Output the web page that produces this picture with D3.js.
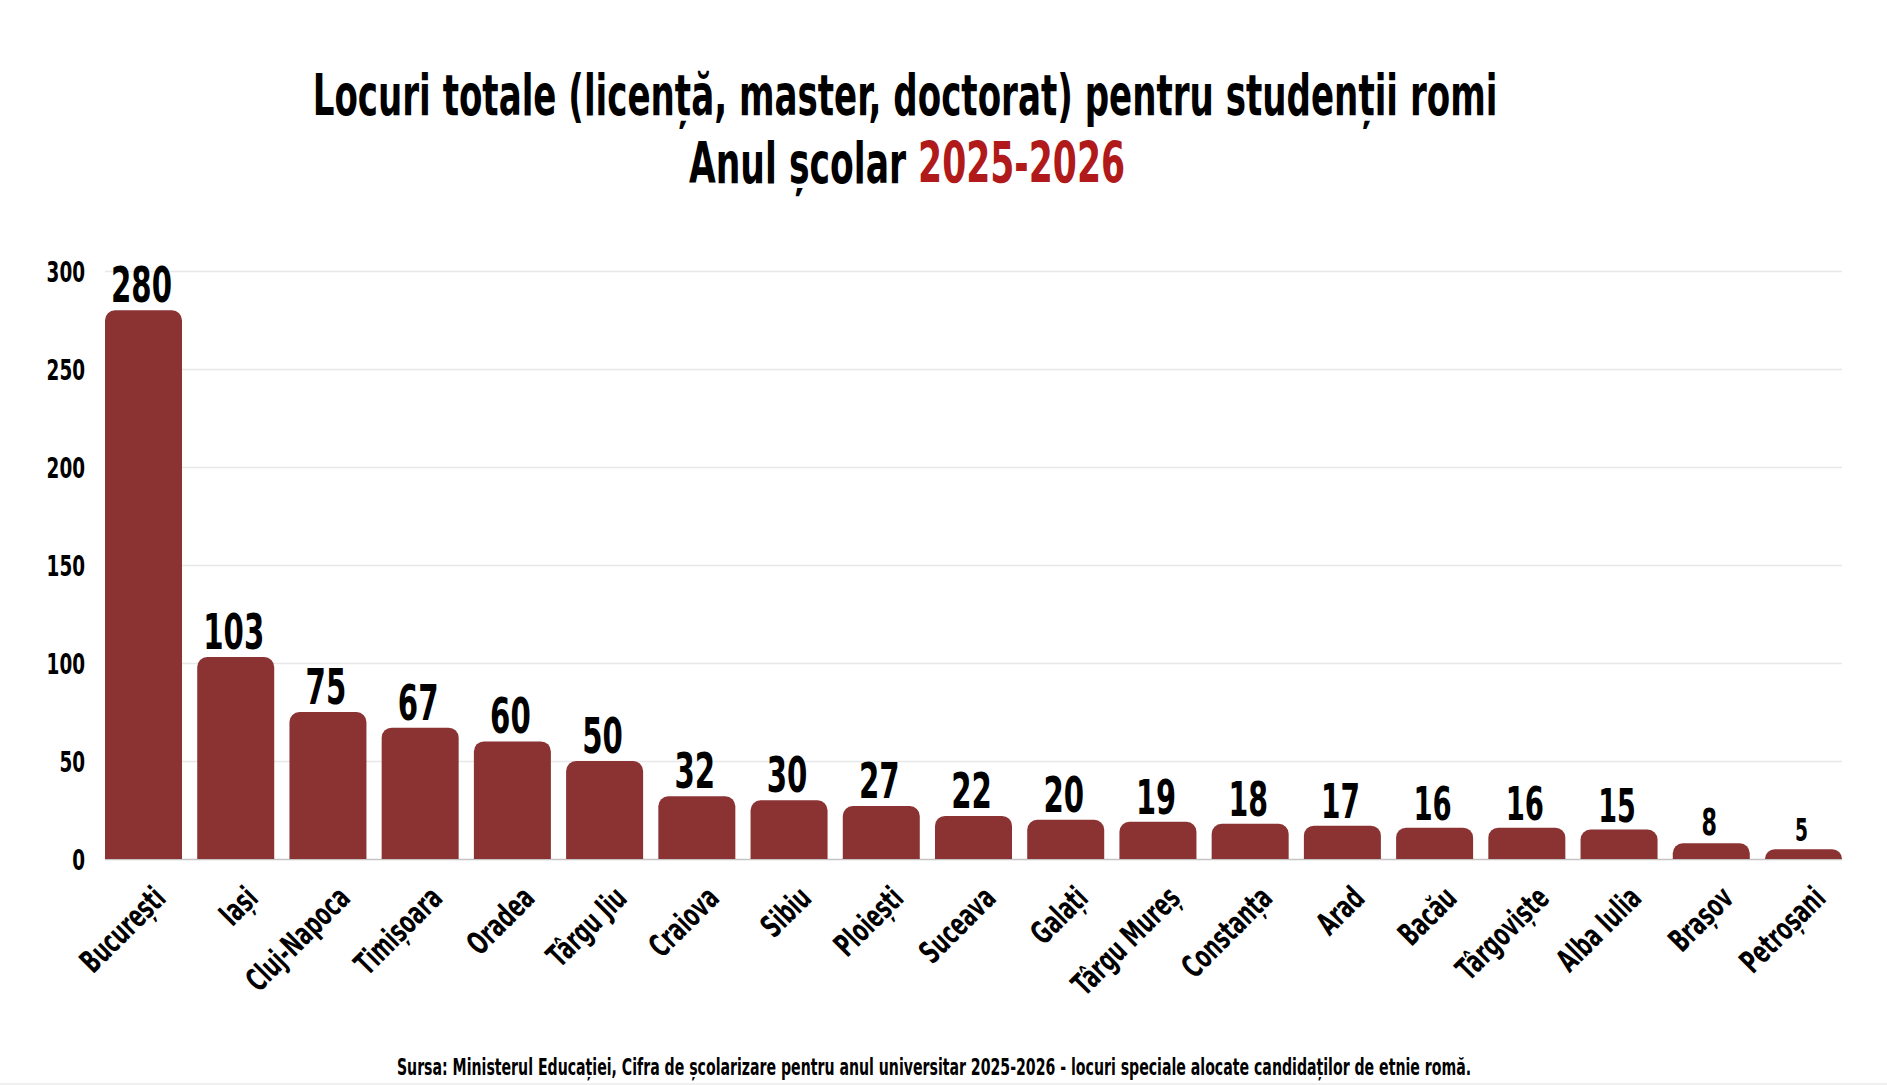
<!DOCTYPE html>
<html>
<head>
<meta charset="utf-8">
<script src="https://cdn.jsdelivr.net/npm/d3@7"></script>
<style>
    body { margin: 0; background: #fff; }
    text {
        font-family: "DejaVu Sans Condensed", "DejaVu Sans", sans-serif;
        font-weight: bold;
        fill: #000;
    }
</style>
</head>
<body>
<div id="chart"></div>
<script>
const WIDTH = 1887;
const HEIGHT = 1085;
const MARGIN = {
    top: 271,
    right: 45,
    bottom: 226,
    left: 105,
};
const BAR_COLOR = '#8b3333';
const ACCENT = '#b01a1a';
const CAP = 0.729; // cap height of DejaVu, as a share of font size

const cities = [
    'București', 'Iași', 'Cluj-Napoca', 'Timișoara', 'Oradea', 'Târgu Jiu',
    'Craiova', 'Sibiu', 'Ploiești', 'Suceava', 'Galați', 'Târgu Mureș',
    'Constanța', 'Arad', 'Bacău', 'Târgoviște', 'Alba Iulia', 'Brașov', 'Petroșani',
];
const seats = [280, 103, 75, 67, 60, 50, 32, 30, 27, 22, 20, 19, 18, 17, 16, 16, 15, 8, 5];
const yTicks = [0, 50, 100, 150, 200, 250, 300];

const titleLine1 = 'Locuri totale (licență, master, doctorat) pentru studenții romi';
const titleLine2 = 'Anul școlar ';
const titleYear = '2025-2026';
const source = 'Sursa: Ministerul Educației, Cifra de școlarizare pentru anul universitar 2025-2026 - locuri speciale alocate candidaților de etnie romă.';

const data = cities.map((city, i) => ({ city, value: seats[i] }));

const innerW = WIDTH - MARGIN.left - MARGIN.right;
const innerH = HEIGHT - MARGIN.top - MARGIN.bottom;

const root = d3.select('#chart')
    .append('svg')
    .attr('width', WIDTH)
    .attr('height', HEIGHT);

// Title, first line is used to work out how much to squeeze the font
const title1 = root.append('text')
    .attr('text-anchor', 'middle')
    .style('font-size', (42 / CAP) + 'px')
    .text(titleLine1);
const SQUEEZE = 1185 / title1.node().getComputedTextLength();
title1.attr('transform', `translate(905,115) scale(${SQUEEZE},1)`);

const title2 = root.append('text')
    .attr('text-anchor', 'middle')
    .attr('transform', `translate(907,183) scale(${SQUEEZE * 1.015},1)`)
    .style('font-size', (42 / CAP) + 'px');
title2.append('tspan').text(titleLine2);
title2.append('tspan').style('fill', ACCENT).text(titleYear);

root.append('text')
    .attr('text-anchor', 'middle')
    .attr('transform', `translate(934,1075) scale(${SQUEEZE},1)`)
    .style('font-size', (17.4 / CAP) + 'px')
    .text(source);

root.append('line')
    .attr('x1', 0).attr('x2', WIDTH)
    .attr('y1', HEIGHT - 1).attr('y2', HEIGHT - 1)
    .style('stroke', '#f0f0f0')
    .style('stroke-width', 2);

const svg = root.append('g')
    .attr('transform', `translate(${MARGIN.left},${MARGIN.top})`);

const x = d3.scaleBand()
    .domain(cities)
    .range([0, innerW])
    .paddingInner(0.165)
    .paddingOuter(0);
const y = d3.scaleLinear().domain([0, 300]).range([innerH, 0]);

// Gridlines and y labels
const yAxis = svg.append('g')
    .call(d3.axisLeft(y)
        .tickValues(yTicks)
        .tickSize(-innerW)
        .tickPadding(20));
yAxis.select('.domain').remove();
yAxis.selectAll('.tick line')
    .style('stroke', d => d === 0 ? '#c4c4c4' : '#e8e8e8')
    .style('stroke-width', 1.5);
yAxis.selectAll('.tick text')
    .attr('x', -20 / (SQUEEZE * 1.08))
    .attr('dy', '0.36em')
    .attr('transform', `scale(${SQUEEZE * 1.08},1)`)
    .style('font-size', (21 / CAP) + 'px')
    .style('font-family', null);

// Bars with rounded tops
function topRounded(x0, y0, w, h, r) {
    r = Math.min(r, h, w / 2);
    return `M${x0},${y0 + h}V${y0 + r}A${r},${r} 0 0 1 ${x0 + r},${y0}` +
        `H${x0 + w - r}A${r},${r} 0 0 1 ${x0 + w},${y0 + r}V${y0 + h}Z`;
}

svg.selectAll('path.bar')
    .data(data)
    .enter()
    .append('path')
    .attr('class', 'bar')
    .style('fill', BAR_COLOR)
    .attr('d', d => topRounded(x(d.city), y(d.value), x.bandwidth(), innerH - y(d.value), 10));

// Value labels, smaller bars get smaller numbers
const labelCap = d3.scaleLog().domain([5, 20]).range([23, 36]).clamp(true);

svg.selectAll('text.value')
    .data(data)
    .enter()
    .append('text')
    .attr('class', 'value')
    .attr('text-anchor', 'middle')
    .attr('transform', d => `translate(${x(d.city) + x.bandwidth() / 2 - 2},${y(d.value) - 8}) scale(${SQUEEZE},1)`)
    .style('font-size', d => (labelCap(d.value) / CAP) + 'px')
    .text(d => d.value);

// City labels
const xAxis = svg.append('g')
    .attr('transform', `translate(0,${innerH})`)
    .call(d3.axisBottom(x).tickSize(0).tickPadding(0));
xAxis.select('.domain').remove();
xAxis.selectAll('.tick text')
    .attr('x', 0)
    .attr('y', 0)
    .attr('dy', 0)
    .attr('text-anchor', 'end')
    .attr('transform', `translate(24,41) rotate(-45) scale(${SQUEEZE * 1.05},1)`)
    .style('font-size', (23 / CAP) + 'px')
    .style('font-family', null);
</script>
</body>
</html>
